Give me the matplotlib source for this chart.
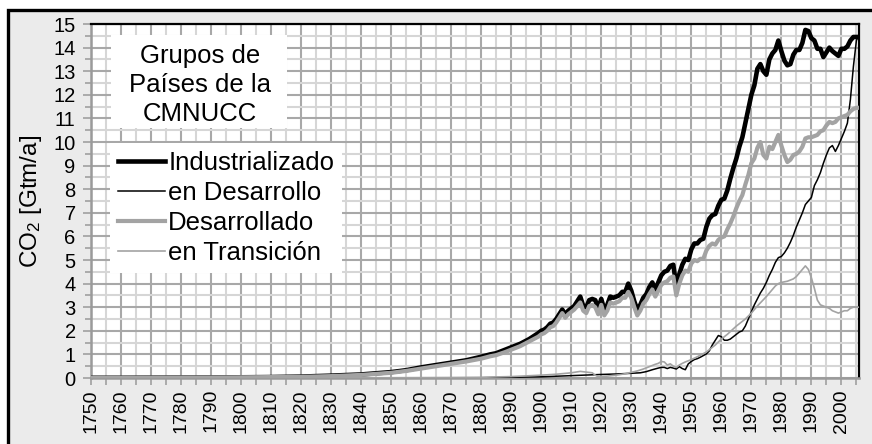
import matplotlib
matplotlib.use("Agg")
import matplotlib.pyplot as plt
from matplotlib.patches import Rectangle
from matplotlib.lines import Line2D
from matplotlib.ticker import MultipleLocator

plt.rcParams['font.family'] = ['Liberation Sans', 'DejaVu Sans']
plt.rcParams['mathtext.fontset'] = 'custom'
plt.rcParams['mathtext.rm'] = 'Liberation Sans'
plt.rcParams['mathtext.it'] = 'Liberation Sans:italic'

# ---------------- data (Gt CO2 / year) ----------------
ind_years = [1750, 1760, 1770, 1780, 1790, 1800, 1810, 1820, 1830, 1840, 1850, 1855, 1860, 1865,
             1870, 1875, 1880, 1883, 1885, 1888, 1890, 1893, 1896, 1899] + list(range(1900, 2007))
ind_vals = [0.01, 0.01, 0.015, 0.02, 0.02, 0.03, 0.04, 0.06, 0.1, 0.15, 0.25, 0.33, 0.45, 0.55,
            0.65, 0.75, 0.9, 1.0, 1.05, 1.2, 1.3, 1.45, 1.65, 1.9,
            2.0, 2.05, 2.15, 2.3, 2.35, 2.5, 2.7, 2.9, 2.7, 2.85,
            2.95, 3.05, 3.25, 3.45, 3.05, 3.0, 3.3, 3.35, 3.3, 2.95,
            3.35, 2.9, 3.1, 3.45, 3.4, 3.45, 3.5, 3.65, 3.65, 4.0,
            3.7, 3.25, 2.9, 3.1, 3.4, 3.55, 3.85, 4.05, 3.75, 4.05,
            4.35, 4.5, 4.55, 4.75, 4.8, 3.9, 4.4, 4.8, 5.05, 5.0,
            5.45, 5.7, 5.7, 5.85, 5.9, 6.4, 6.75, 6.9, 6.95, 7.3,
            7.55, 7.6, 7.95, 8.45, 8.9, 9.3, 9.8, 10.2, 10.8, 11.4,
            12.0, 12.4, 13.1, 13.3, 13.0, 12.85, 13.5, 13.75, 13.9, 14.3,
            13.85, 13.45, 13.25, 13.3, 13.7, 13.9, 13.9, 14.2, 14.75, 14.7,
            14.4, 14.3, 13.95, 13.95, 13.6, 13.8, 14.0, 13.85, 13.75, 13.65,
            13.95, 13.95, 14.05, 14.3, 14.45, 14.45, 14.45]

dev_years = [1750, 1800, 1850, 1880, 1890, 1900, 1910, 1920, 1925, 1930, 1933, 1935, 1937, 1939] + \
            list(range(1940, 2007))
dev_vals = [0.0, 0.0, 0.0, 0.01, 0.03, 0.05, 0.1, 0.15, 0.17, 0.2, 0.22, 0.27, 0.35, 0.42,
            0.45, 0.45, 0.4, 0.45, 0.42, 0.38, 0.48, 0.4, 0.35, 0.6,
            0.7, 0.78, 0.82, 0.88, 0.95, 1.02, 1.15, 1.4, 1.6, 1.8,
            1.75, 1.6, 1.6, 1.65, 1.75, 1.85, 1.95, 2.0, 2.2, 2.5,
            2.8, 3.1, 3.35, 3.6, 3.8, 4.05, 4.35, 4.6, 4.9, 5.1,
            5.15, 5.3, 5.5, 5.75, 6.05, 6.4, 6.7, 7.0, 7.35, 7.5,
            7.65, 8.15, 8.4, 8.7, 9.1, 9.45, 9.75, 9.85, 9.6, 9.85,
            10.15, 10.45, 10.8, 11.8, 13.2, 14.3, 14.6]

des_years = ind_years
des_vals = [0.01, 0.01, 0.015, 0.02, 0.02, 0.03, 0.04, 0.05, 0.08, 0.13, 0.22, 0.3, 0.4, 0.5,
            0.6, 0.7, 0.82, 0.92, 0.97, 1.1, 1.2, 1.35, 1.55, 1.75,
            1.85, 1.9, 2.0, 2.15, 2.2, 2.35, 2.55, 2.75, 2.55, 2.7,
            2.8, 2.9, 3.05, 3.2, 2.85, 2.75, 3.05, 3.1, 3.0, 2.7,
            3.1, 2.65, 2.85, 3.2, 3.15, 3.2, 3.25, 3.4, 3.4, 3.65,
            3.4, 3.0, 2.65, 2.85, 3.15, 3.3, 3.55, 3.75, 3.45, 3.7,
            3.95, 4.05, 4.1, 4.25, 4.3, 3.5, 4.0, 4.35, 4.55, 4.5,
            4.85, 5.0, 4.95, 5.05, 5.05, 5.4, 5.6, 5.7, 5.65, 5.85,
            5.95, 6.0, 6.3, 6.55, 6.85, 7.2, 7.5, 7.75, 8.2, 8.6,
            9.1, 9.3, 9.75, 10.0, 9.45, 9.3, 9.8, 9.7, 10.0, 10.3,
            9.85, 9.45, 9.15, 9.25, 9.45, 9.5, 9.6, 9.8, 10.15, 10.2,
            10.2, 10.25, 10.3, 10.45, 10.5, 10.7, 10.85, 10.8, 10.85, 11.0,
            11.05, 11.1, 11.15, 11.3, 11.4, 11.45, 11.45]

tra_years = [1750, 1800, 1850, 1870, 1880, 1890, 1900, 1905, 1910, 1913, 1915, 1917, 1918, 1919,
             1920, 1922, 1925, 1928, 1930, 1932, 1934, 1936, 1938, 1939, 1940, 1941, 1942, 1943,
             1944, 1945, 1946, 1947, 1948, 1950, 1952, 1955, 1958, 1960, 1962, 1965, 1968, 1970,
             1972, 1975, 1977, 1978, 1979, 1980, 1982, 1984, 1985, 1986, 1987, 1988, 1989, 1990,
             1991, 1992, 1993, 1994, 1995, 1996, 1997, 1998, 1999, 2000, 2001, 2002, 2003, 2004,
             2005, 2006]
tra_vals = [0.0, 0.0, 0.01, 0.02, 0.03, 0.06, 0.12, 0.16, 0.22, 0.28, 0.25, 0.22, 0.12, 0.05,
            0.06, 0.08, 0.12, 0.18, 0.24, 0.3, 0.38, 0.48, 0.58, 0.62, 0.7, 0.68, 0.55, 0.6,
            0.5, 0.45, 0.55, 0.62, 0.68, 0.78, 0.9, 1.1, 1.4, 1.65, 1.85, 2.2, 2.5, 2.75,
            3.05, 3.45, 3.75, 3.9, 4.0, 4.05, 4.1, 4.2, 4.3, 4.45, 4.6, 4.75, 4.6, 4.25,
            3.8, 3.3, 3.1, 3.05, 3.0, 2.95, 2.85, 2.8, 2.75, 2.8, 2.85, 2.85, 2.95, 3.0,
            3.0, 3.0]

labels = ["Industrializado", "en Desarrollo", "Desarrollado", "en Transición"]
title_lines = "Grupos de\nPaíses de la\nCMNUCC"
xtick_labels = [str(y) for y in range(1750, 2001, 10)]

# ---------------- figure ----------------
W, H = 872, 444
fig = plt.figure(figsize=(W / 100, H / 100), dpi=100, facecolor='white')

def fx(px):
    return px / W

def fy(py):
    return 1 - py / H

# outer frame (gray panel with black left/top border)
frame = Rectangle((fx(8), -0.2), 1.3, fy(10) + 0.2, transform=fig.transFigure,
                  facecolor='#ebebeb', edgecolor='black', linewidth=2.4, zorder=-10)
fig.patches.append(frame)

ax = fig.add_axes([fx(91), fy(378), fx(858.5) - fx(91), fy(24) - fy(378)])
ax.set_zorder(1)
ax.set_facecolor('white')

dark = 'black'
grey = '#a3a3a3'
ax.plot(ind_years, ind_vals, color=dark, lw=3.3, solid_joinstyle='round', zorder=3)
ax.plot(dev_years, dev_vals, color=dark, lw=1.1, zorder=3)
ax.plot(des_years, des_vals, color=grey, lw=3.0, solid_joinstyle='round', zorder=3)
ax.plot(tra_years, tra_vals, color=grey, lw=1.2, zorder=3)

ax.set_xlim(1750, 2005.7)
ax.set_ylim(0, 15)

ax.xaxis.set_major_locator(MultipleLocator(10))
ax.xaxis.set_minor_locator(MultipleLocator(5))
ax.yaxis.set_major_locator(MultipleLocator(1))
ax.yaxis.set_minor_locator(MultipleLocator(0.5))
ax.set_xticks(list(range(1750, 2001, 10)))
ax.set_xticklabels(xtick_labels, rotation=90, fontsize=14)
ax.tick_params(axis='y', labelsize=14.5)

ax.grid(which='major', color='#a8a8a8', linewidth=1.5, zorder=1)
ax.grid(which='minor', color='#d6d6d6', linewidth=1.5, zorder=0.9)
ax.set_axisbelow(True)

ax.tick_params(axis='both', which='both', direction='out', color='#a0a0a0', width=1.2)
ax.tick_params(axis='y', which='major', length=6, pad=5)
ax.tick_params(axis='y', which='minor', length=4)
ax.tick_params(axis='x', which='both', length=5, pad=3)

for side in ('top', 'right'):
    ax.spines[side].set_color('black')
    ax.spines[side].set_linewidth(1.6)
for side in ('left', 'bottom'):
    ax.spines[side].set_color('#9a9a9a')
    ax.spines[side].set_linewidth(1.8)

ax.set_ylabel(r"CO$_2$ [Gtm/a]", fontsize=17.5)
ax.yaxis.set_label_coords(-(91 - 44) / (858.5 - 91), 0.5)

# title box (inside axes, above grid)
title_box = Rectangle((fx(111), fy(128)), fx(287) - fx(111), fy(35) - fy(128),
                      transform=fig.transFigure, facecolor='white', edgecolor='none', zorder=5)
ax.add_artist(title_box)
ax.text(fx(200), fy(85), title_lines, transform=fig.transFigure, ha='center', va='center',
        fontsize=18.5, linespacing=1.25, zorder=6)

# legend
handles = [Line2D([], [], color=dark, lw=3.3),
           Line2D([], [], color=dark, lw=1.1),
           Line2D([], [], color=grey, lw=3.0),
           Line2D([], [], color=grey, lw=1.2)]
leg = ax.legend(handles, labels, loc='upper left', bbox_to_anchor=(fx(110), fy(143)),
                bbox_transform=fig.transFigure, fontsize=18.5, frameon=True, fancybox=False,
                facecolor='white', edgecolor='none', framealpha=1, handlelength=1.85,
                handletextpad=0.12, labelspacing=0.24, borderpad=0.3, borderaxespad=0)
leg._legend_box.sep = 0
leg.set_zorder(6)

fig.savefig('out.png', dpi=100, facecolor=fig.get_facecolor())
